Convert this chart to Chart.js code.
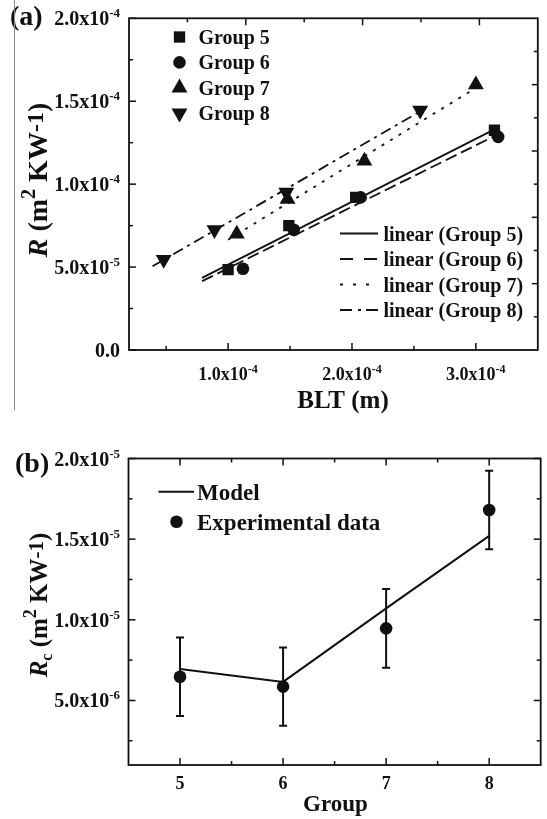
<!DOCTYPE html>
<html>
<head>
<meta charset="utf-8">
<script src="https://cdn.jsdelivr.net/npm/chart.js@4.4.1/dist/chart.umd.min.js"></script>
<style>
  html, body { margin: 0; padding: 0; background: #fff; }
  body { width: 547px; height: 819px; position: relative; overflow: hidden; }
  canvas { position: absolute; left: 0; }
  #ca { top: 0; }
  #cb { top: 420px; }
  #edge { position: absolute; left: 14px; top: 0; width: 0; height: 410px; border-left: 1.5px solid #8a8a8a; }
</style>
</head>
<body>
<canvas id="ca" width="547" height="420"></canvas>
<canvas id="cb" width="547" height="399"></canvas>
<div id="edge"></div>
<script>
// ---------- (a) thermal resistance vs bond line thickness ----------
const blt5 = [1.00e-4, 1.49e-4, 2.03e-4, 3.15e-4];
const r5   = [4.85e-5, 7.50e-5, 9.20e-5, 1.325e-4];
const blt6 = [1.12e-4, 1.53e-4, 2.07e-4, 3.18e-4];
const r6   = [4.90e-5, 7.25e-5, 9.20e-5, 1.285e-4];
const blt7 = [1.07e-4, 1.48e-4, 2.10e-4, 3.00e-4];
const r7   = [7.00e-5, 9.10e-5, 1.14e-4, 1.60e-4];
const blt8 = [4.80e-5, 8.90e-5, 1.47e-4, 2.55e-4];
const r8   = [5.45e-5, 7.25e-5, 9.50e-5, 1.445e-4];

// linear fits, end points of each fitted segment
const fitBlt5 = [7.9e-5, 3.15e-4];  const fitR5 = [4.35e-5, 1.33e-4];
const fitBlt6 = [7.9e-5, 3.15e-4];  const fitR6 = [4.15e-5, 1.29e-4];
const fitBlt7 = [1.0e-4, 3.0e-4];   const fitR7 = [6.65e-5, 1.58e-4];
const fitBlt8 = [3.9e-5, 2.6e-4];   const fitR8 = [5.05e-5, 1.46e-4];

// axis ticks of (a)
const bltLabelTicks = [1e-4, 2e-4, 3e-4];
const bltMinorTicks = [5e-5, 1.5e-4, 2.5e-4];
const topMajorTicks = [1e-4, 2e-4, 3e-4];
const topMinorTicks = [5e-5, 1.5e-4, 2.5e-4];
const rLabelTicks   = [0, 5e-5, 1e-4, 1.5e-4, 2e-4];
const rMinorTicks   = [2.5e-5, 7.5e-5, 1.25e-4, 1.75e-4];
const rightMajorTicks = [4e-5, 8e-5, 1.2e-4, 1.6e-4];
const rightMinorTicks = [2e-5, 6e-5, 1e-4, 1.4e-4, 1.8e-4];

// ---------- (b) contact resistance per group ----------
const groups  = [5, 6, 7, 8];
const rcExp   = [6.47e-6, 5.86e-6, 9.47e-6, 1.681e-5];
const rcErr   = [2.44e-6, 2.42e-6, 2.44e-6, 2.43e-6];
const rcModel = [6.95e-6, 6.15e-6, 1.071e-5, 1.52e-5];

const groupLabelTicks = [5, 6, 7, 8];
const groupMinorTicks = [5.5, 6.5, 7.5];
const rcLabelTicks = [5e-6, 1e-5, 1.5e-5, 2e-5];
const rcMinorTicks = [2.5e-6, 7.5e-6, 1.25e-5, 1.75e-5];

// ---------- helpers ----------
const INK = '#111';
const SERIF = '"Liberation Serif", "Times New Roman", serif';
const font = (size, style) => `${style || 'bold'} ${size}px ${SERIF}`;
const pts = (xs, ys) => xs.map((x, i) => ({ x: x, y: ys[i] }));
const MAJ = 7, MIN = 4;

function sciLabel(v) {
  if (v === 0) return { main: '0.0', exp: '' };
  const e = Math.floor(Math.log10(Math.abs(v)) + 1e-9);
  const m = v / Math.pow(10, e);
  return { main: m.toFixed(1) + 'x10', exp: String(e) };
}

// mantissa x10 with a raised exponent
function drawSci(ctx, v, x, y, align, size, supSize, rise) {
  const lab = sciLabel(v);
  ctx.font = font(size); const w1 = ctx.measureText(lab.main).width;
  ctx.font = font(supSize); const w2 = lab.exp ? ctx.measureText(lab.exp).width : 0;
  const total = w1 + w2;
  const x0 = align === 'right' ? x - total : (align === 'center' ? x - total / 2 : x);
  ctx.textAlign = 'left'; ctx.textBaseline = 'alphabetic';
  ctx.font = font(size); ctx.fillText(lab.main, x0, y);
  if (lab.exp) { ctx.font = font(supSize); ctx.fillText(lab.exp, x0 + w1, y - rise); }
}

function drawPieces(ctx, pieces, x, y, align) {
  let total = 0;
  pieces.forEach(p => { ctx.font = p.font; p.w = ctx.measureText(p.t).width; total += p.w; });
  let cx = align === 'center' ? x - total / 2 : x;
  ctx.textAlign = 'left'; ctx.textBaseline = 'alphabetic';
  pieces.forEach(p => { ctx.font = p.font; ctx.fillText(p.t, cx, y + (p.dy || 0)); cx += p.w; });
}

function drawFrame(chart, spec) {
  const ctx = chart.ctx, a = chart.chartArea;
  ctx.save();
  ctx.strokeStyle = INK; ctx.fillStyle = INK;
  ctx.lineWidth = 1.8;
  ctx.strokeRect(a.left, a.top, a.right - a.left, a.bottom - a.top);
  ctx.lineWidth = 1.5;
  const seg = (x1, y1, x2, y2) => { ctx.beginPath(); ctx.moveTo(x1, y1); ctx.lineTo(x2, y2); ctx.stroke(); };
  const sx = chart.scales[spec.bottomScale], st = chart.scales[spec.topScale];
  const sy = chart.scales.y;
  spec.bottom.forEach(([list, len]) => list.forEach(v => { const p = sx.getPixelForValue(v); seg(p, a.bottom, p, a.bottom - len); }));
  spec.top.forEach(([list, len]) => list.forEach(v => { const p = st.getPixelForValue(v); seg(p, a.top, p, a.top + len); }));
  spec.left.forEach(([list, len]) => list.forEach(v => { const p = sy.getPixelForValue(v); seg(a.left, p, a.left + len, p); }));
  spec.right.forEach(([list, len]) => list.forEach(v => { const p = sy.getPixelForValue(v); seg(a.right, p, a.right - len, p); }));
  ctx.restore();
}

// ---------- chart (a) ----------
const panelA = {
  id: 'panelA',
  afterDraw(chart) {
    const ctx = chart.ctx;
    drawFrame(chart, {
      bottomScale: 'x', topScale: 'xTop',
      bottom: [[bltLabelTicks, MAJ], [bltMinorTicks, MIN]],
      top: [[topMajorTicks, MAJ], [topMinorTicks, MIN]],
      left: [[rLabelTicks, MAJ], [rMinorTicks, MIN]],
      right: [[rightMajorTicks, MAJ - 1], [rightMinorTicks, MIN]]
    });
    ctx.save();
    ctx.fillStyle = INK; ctx.strokeStyle = INK;
    bltLabelTicks.forEach(v => drawSci(ctx, v, chart.scales.x.getPixelForValue(v), 380, 'center', 18, 12, 7));
    rLabelTicks.forEach(v => drawSci(ctx, v, 120, chart.scales.y.getPixelForValue(v) + 7, 'right', 20, 13, 8));

    // axis titles
    drawPieces(ctx, [{ t: 'BLT (m)', font: font(25) }], 343, 408, 'center');
    ctx.save();
    ctx.translate(47, 180); ctx.rotate(-Math.PI / 2);
    drawPieces(ctx, [
      { t: 'R', font: font(28, 'italic bold') },
      { t: ' (m', font: font(28) },
      { t: '2', font: font(20), dy: -12 },
      { t: ' KW', font: font(28) },
      { t: '-1', font: font(24), dy: -4 },
      { t: ')', font: font(28) }
    ], 0, 0, 'center');
    ctx.restore();

    // panel tag
    drawPieces(ctx, [{ t: '(a)', font: font(28) }], 10, 25, 'left');

    // legend of symbols
    const ds = chart.data.datasets;
    [0, 1, 2, 3].forEach((i, k) => {
      const y = 37 + k * 25.4;
      Chart.helpers.drawPoint(ctx, { pointStyle: ds[i].pointStyle, radius: ds[i].pointRadius, rotation: ds[i].pointRotation || 0, borderWidth: 0 }, 179.5, y);
      ctx.font = font(20); ctx.textAlign = 'left'; ctx.textBaseline = 'alphabetic';
      ctx.fillText(ds[i].label, 198.5, y + 7);
    });
    // legend of fitted lines
    const legendDash = [[], [13, 11], [3, 10], [12, 6, 3, 5]];
    [4, 5, 6, 7].forEach((i, k) => {
      const y = 233.5 + k * 25.5;
      ctx.save();
      ctx.lineWidth = 2; ctx.setLineDash(legendDash[k]);
      ctx.beginPath(); ctx.moveTo(340, y); ctx.lineTo(378, y); ctx.stroke();
      ctx.restore();
      ctx.font = font(20); ctx.textAlign = 'left'; ctx.textBaseline = 'alphabetic';
      ctx.fillText(ds[i].label, 383.5, y + 7);
    });
    ctx.restore();
  }
};

const markerBase = { showLine: false, pointBackgroundColor: INK, pointBorderWidth: 0, pointHoverRadius: 0 };
const fitBase = { showLine: true, borderColor: INK, borderWidth: 1.8, pointRadius: 0, fill: false };

new Chart(document.getElementById('ca'), {
  type: 'scatter',
  data: {
    datasets: [
      Object.assign({ label: 'Group 5', data: pts(blt5, r5), pointStyle: 'rect', pointRadius: 8 }, markerBase),
      Object.assign({ label: 'Group 6', data: pts(blt6, r6), pointStyle: 'circle', pointRadius: 6.3 }, markerBase),
      Object.assign({ label: 'Group 7', data: pts(blt7, r7), pointStyle: 'triangle', pointRadius: 9.2 }, markerBase),
      Object.assign({ label: 'Group 8', data: pts(blt8, r8), pointStyle: 'triangle', pointRotation: 180, pointRadius: 9.2 }, markerBase),
      Object.assign({ label: 'linear (Group 5)', data: pts(fitBlt5, fitR5), borderDash: [] }, fitBase),
      Object.assign({ label: 'linear (Group 6)', data: pts(fitBlt6, fitR6), borderDash: [12, 5] }, fitBase),
      Object.assign({ label: 'linear (Group 7)', data: pts(fitBlt7, fitR7), borderDash: [3, 7] }, fitBase),
      Object.assign({ label: 'linear (Group 8)', data: pts(fitBlt8, fitR8), borderDash: [11, 5, 3, 5] }, fitBase)
    ]
  },
  options: {
    responsive: false, animation: false, devicePixelRatio: 1, events: [],
    layout: { padding: { left: 129, right: 4.3, top: 18.3, bottom: 70 } },
    plugins: { legend: { display: false }, tooltip: { enabled: false } },
    scales: {
      x: { type: 'linear', min: 2e-5, max: 3.5e-4, display: false },
      xTop: { type: 'linear', axis: 'x', position: 'top', min: 0, max: 3.5e-4, display: false },
      y: { type: 'linear', min: 0, max: 2e-4, display: false }
    }
  },
  plugins: [panelA]
});

// ---------- chart (b) ----------
const panelB = {
  id: 'panelB',
  afterDatasetsDraw(chart) {
    const ctx = chart.ctx, sx = chart.scales.x, sy = chart.scales.y;
    ctx.save();
    ctx.strokeStyle = INK; ctx.lineWidth = 2;
    groups.forEach((g, i) => {
      const px = sx.getPixelForValue(g);
      const top = sy.getPixelForValue(rcExp[i] + rcErr[i]);
      const bot = sy.getPixelForValue(rcExp[i] - rcErr[i]);
      ctx.beginPath();
      ctx.moveTo(px, top); ctx.lineTo(px, bot);
      ctx.moveTo(px - 4, top); ctx.lineTo(px + 4, top);
      ctx.moveTo(px - 4, bot); ctx.lineTo(px + 4, bot);
      ctx.stroke();
    });
    ctx.restore();
  },
  afterDraw(chart) {
    const ctx = chart.ctx;
    drawFrame(chart, {
      bottomScale: 'x', topScale: 'x',
      bottom: [[groupLabelTicks, MAJ], [groupMinorTicks, MIN]],
      top: [[groupLabelTicks, MAJ], [groupMinorTicks, MIN]],
      left: [[rcLabelTicks, MAJ], [rcMinorTicks, MIN]],
      right: [[rcLabelTicks, MAJ], [rcMinorTicks, MIN]]
    });
    ctx.save();
    ctx.fillStyle = INK; ctx.strokeStyle = INK;
    groupLabelTicks.forEach(v => drawPieces(ctx, [{ t: String(v), font: font(18) }], chart.scales.x.getPixelForValue(v), 368.5, 'center'));
    rcLabelTicks.forEach(v => drawSci(ctx, v, 120, chart.scales.y.getPixelForValue(v) + 7, 'right', 20, 13, 8));

    drawPieces(ctx, [{ t: 'Group', font: font(23) }], 335.5, 390.5, 'center');
    ctx.save();
    ctx.translate(47, 185); ctx.rotate(-Math.PI / 2);
    drawPieces(ctx, [
      { t: 'R', font: font(25, 'italic bold') },
      { t: 'c', font: font(16), dy: 5 },
      { t: ' (m', font: font(25) },
      { t: '2', font: font(18), dy: -11 },
      { t: ' KW', font: font(25) },
      { t: '-1', font: font(21), dy: -4 },
      { t: ')', font: font(25) }
    ], 0, 0, 'center');
    ctx.restore();

    drawPieces(ctx, [{ t: '(b)', font: font(28) }], 15, 51.7, 'left');

    // legend
    ctx.lineWidth = 2;
    ctx.beginPath(); ctx.moveTo(158.5, 71.7); ctx.lineTo(194, 71.7); ctx.stroke();
    const ds = chart.data.datasets;
    Chart.helpers.drawPoint(ctx, { pointStyle: 'circle', radius: ds[0].pointRadius, rotation: 0, borderWidth: 0 }, 176.5, 101.7);
    ctx.font = font(23); ctx.textAlign = 'left'; ctx.textBaseline = 'alphabetic';
    ctx.fillText(ds[1].label, 197, 71.7 + 8);
    ctx.fillText(ds[0].label, 197, 101.7 + 8);
    ctx.restore();
  }
};

new Chart(document.getElementById('cb'), {
  type: 'scatter',
  data: {
    datasets: [
      Object.assign({ label: 'Experimental data', data: pts(groups, rcExp), pointStyle: 'circle', pointRadius: 6.3 }, markerBase),
      Object.assign({ label: 'Model', data: pts(groups, rcModel), borderDash: [] }, fitBase, { borderWidth: 2 })
    ]
  },
  options: {
    responsive: false, animation: false, devicePixelRatio: 1, events: [],
    layout: { padding: { left: 128.5, right: 4.3, top: 38.5, bottom: 54 } },
    plugins: { legend: { display: false }, tooltip: { enabled: false } },
    scales: {
      x: { type: 'linear', min: 4.5, max: 8.5, display: false },
      y: { type: 'linear', min: 1e-6, max: 2e-5, display: false }
    }
  },
  plugins: [panelB]
});
</script>
</body>
</html>
